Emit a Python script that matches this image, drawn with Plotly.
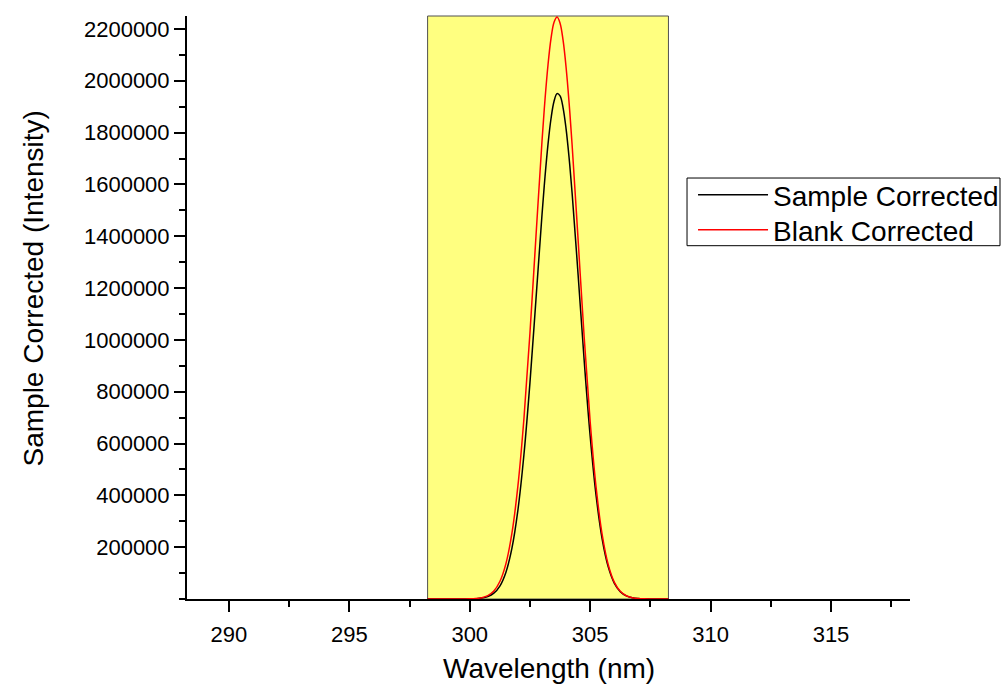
import plotly.graph_objects as go

# ---- data ----
wavelength = [298.25, 298.5, 298.75, 299.0, 299.25, 299.5, 299.75, 300.0, 300.25, 300.5,
              300.75, 301.0, 301.25, 301.5, 301.75, 302.0, 302.25, 302.5, 302.75, 303.0,
              303.125, 303.25, 303.375, 303.5, 303.625, 303.75, 303.875, 304.0, 304.125,
              304.25, 304.5, 304.75, 305.0, 305.25, 305.5,
              305.75, 306.0, 306.25, 306.5, 306.75, 307.0, 307.25, 307.5, 307.75, 308.0,
              308.25]

sample_corrected = [0, 0, 0, 1, 9, 35, 126, 415, 1270, 3570,
                    9310, 22400, 49900, 102700, 195200, 343000, 556500, 835100, 1157300, 1482700,
                    1629400, 1755400, 1854400, 1920800, 1950500, 1942000, 1895800, 1814600, 1702900,
                    1567100, 1250500, 922100, 628500, 395700, 230300,
                    124000, 61600, 28300, 12000, 4700, 1710, 570, 180, 50, 14,
                    4]

blank_corrected = [0, 0, 0, 3, 15, 56, 195, 630, 1875, 5170,
                   13140, 30930, 67400, 135700, 253100, 436600, 695800, 1026700, 1400200, 1766700,
                   1927500, 2062000, 2163400, 2225800, 2246000, 2222400, 2156600, 2052400, 1915400,
                   1753000, 1385300, 1012300, 684100, 427900, 247300,
                   132300, 65400, 29900, 12700, 4970, 1800, 600, 190, 55, 15,
                   4]

series_names = ["Sample Corrected", "Blank Corrected"]
x_tick_vals = [290, 295, 300, 305, 310, 315]
y_tick_vals = [200000, 400000, 600000, 800000, 1000000, 1200000, 1400000,
               1600000, 1800000, 2000000, 2200000]
y_tick_text = [str(v) for v in y_tick_vals]

FONT = "Liberation Sans, Arial, sans-serif"

fig = go.Figure()
fig.add_trace(go.Scatter(x=wavelength, y=sample_corrected, mode="lines",
                         name=series_names[0], legend="legend",
                         line=dict(color="black", width=1.5, shape="spline")))
fig.add_trace(go.Scatter(x=wavelength, y=blank_corrected, mode="lines",
                         name=series_names[1], legend="legend2",
                         line=dict(color="#ff0000", width=1.5, shape="spline")))

# highlighted data range
fig.add_shape(type="rect", xref="x", yref="paper",
              x0=min(wavelength), x1=max(wavelength), y0=0, y1=1,
              fillcolor="rgb(255,255,128)", line=dict(color="#505050", width=1),
              layer="below")

# legend frame
fig.add_shape(type="rect", xref="paper", yref="paper",
              x0=0.6916, x1=1.1245, y0=0.606, y1=0.7221,
              fillcolor="white", line=dict(color="black", width=1),
              layer="above")

axis_common = dict(showline=True, linecolor="black", linewidth=2,
                   ticks="outside", tickcolor="black", tickwidth=2, ticklen=11,
                   showgrid=False, zeroline=False, mirror=False,
                   tickfont=dict(family=FONT, size=22, color="black"))

fig.update_xaxes(range=[288.26, 318.28], tickvals=x_tick_vals,
                 minor=dict(ticks="outside", dtick=2.5, tick0=287.5, ticklen=6,
                            tickwidth=2, tickcolor="black", showgrid=False),
                 ticklabelstandoff=4, **axis_common)
fig.update_yaxes(range=[0, 2250000], tickvals=y_tick_vals, ticktext=y_tick_text,
                 minor=dict(ticks="outside", dtick=100000, tick0=0, ticklen=6,
                            tickwidth=2, tickcolor="black", showgrid=False),
                 ticklabelstandoff=0, **axis_common)

fig.add_annotation(text="Wavelength (nm)", xref="paper", yref="paper",
                   x=0.5, y=-0.1184, xanchor="center", yanchor="middle",
                   showarrow=False, font=dict(family=FONT, size=28, color="black"))
fig.add_annotation(text="Sample Corrected (Intensity)", xref="paper", yref="paper",
                   x=-0.213, y=0.5326, xanchor="center", yanchor="middle",
                   textangle=-90, showarrow=False,
                   font=dict(family=FONT, size=28, color="black"))

legend_common = dict(x=0.6999, xanchor="left", yanchor="middle",
                     bgcolor="rgba(0,0,0,0)", borderwidth=0,
                     font=dict(family=FONT, size=28, color="black"),
                     tracegroupgap=0, itemwidth=70)

fig.update_layout(
    width=1002, height=688,
    margin=dict(l=187, r=92, t=16, b=89, autoexpand=False),
    paper_bgcolor="white", plot_bgcolor="white",
    showlegend=True,
    legend=dict(y=0.693, **legend_common),
    legend2=dict(y=0.6329, **legend_common),
)

fig.write_html("out.html")
